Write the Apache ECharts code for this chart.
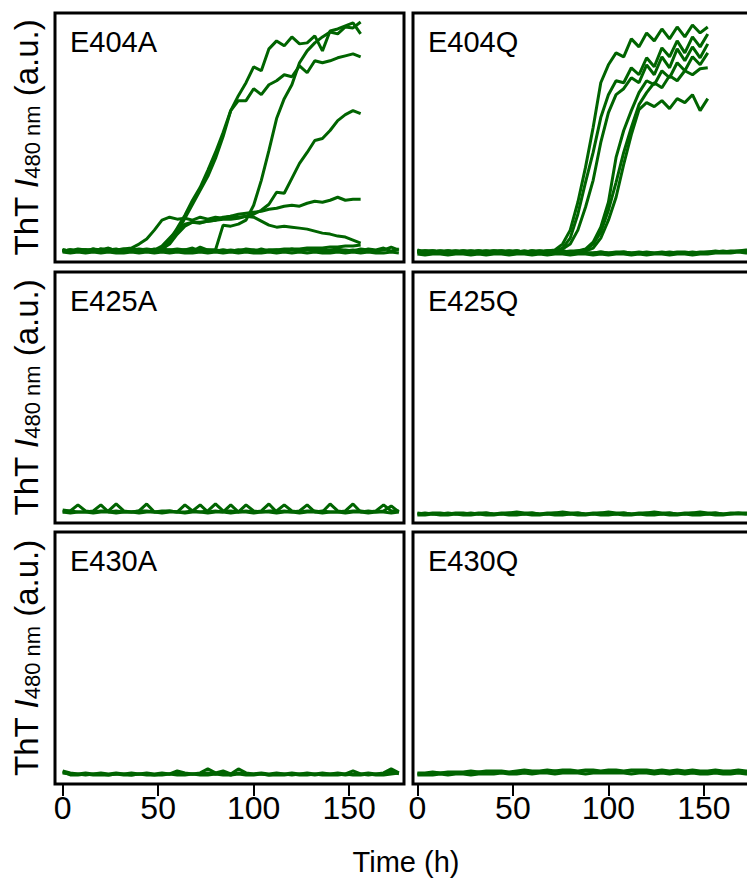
<!DOCTYPE html>
<html>
<head>
<meta charset="utf-8">
<script src="https://cdn.jsdelivr.net/npm/echarts@6/dist/echarts.min.js"></script>
<style>
  html, body { margin: 0; padding: 0; background: #fff; }
  #main { width: 747px; height: 889px; }
</style>
</head>
<body>
<div id="main"></div>
<script>
// time points (h)
const hours = [0,4,8,12,16,20,24,28,32,36,40,44,48,52,56,60,64,68,72,76,80,84,88,92,96,100,104,108,112,116,120,124,128,132,136,140,144,148,152,156,160,164,168,172,176];
const panelNames = ['E404A', 'E404Q', 'E425A', 'E425Q', 'E430A', 'E430Q'];
const xTicks = [0, 50, 100, 150];

// E404A
const e404A_1 = [2,1,2,1,3,2,1,2,3,2,2,3,2,4,12,24,37,52,65,82,100,120,142,157,170,186,182,204,212,207,216,209,210,217,202,222,224,227,230,219];
const e404A_2 = [1,2,1,2,1,3,2,2,1,2,3,2,2,2,10,20,34,48,62,76,94,116,142,152,152,164,158,168,172,178,176,187,180,192,190,192,195,197,199,196];
const e404A_3 = [1,2,1,2,2,1,3,2,1,2,2,1,2,3,2,1,2,2,3,2,2,27,26,28,32,47,72,102,134,154,168,190,202,210,216,221,219,226,225,231];
const e404A_4 = [1,1,2,1,2,1,2,2,1,2,1,2,1,3,8,18,26,30,30,31,32,33,33,34,36,38,42,48,60,59,74,89,100,112,114,122,132,138,142,139];
const e404A_5 = [2,1,2,2,1,3,2,2,3,4,8,13,22,32,35,33,34,32,35,33,35,34,36,35,36,35,31,27,25,26,25,24,23,21,19,18,16,15,12,9];
const e404A_6 = [2,1,2,2,1,2,3,2,1,2,2,1,2,6,14,22,28,30,29,31,32,35,36,38,39,40,41,43,44,46,47,46,49,51,50,52,55,52,53,53];
const e404A_7 = [1,2,1,1,2,1,2,1,1,2,1,2,1,2,1,1,2,1,2,1,1,2,1,2,1,2,1,2,2,3,3,3,4,4,4,5,5,6,6,7];
const e404A_b1 = [2,1,3,2,1,2,4,1,2,3,1,2,2,1,2,3,2,4,1,2,2,1,2,1,3,2,1,2,2,1,3,1,2,2,1,2,3,1,2,1,3,2,4,1,3];
const e404A_b2 = [1,2,1,1,3,1,2,3,1,2,2,1,3,1,2,1,2,1,5,2,1,2,1,2,2,1,3,1,2,1,2,1,3,1,2,1,2,2,1,3,2,1,2,5,2];
const e404A_b3 = [0,-1,0,-1,0,-1,0,-1,-1,0,-1,0,-1,0,-1,0,-1,-1,0,-1,0,-1,0,-1,0,-1,-1,0,-1,0,-1,0,-1,0,-1,-1,0,-1,0,-1,0,-1,-1,0,-1];

// E404Q
const e404Q_1 = [1,0,1,1,0,1,0,1,1,0,1,0,1,1,0,1,0,1,2,8,22,50,85,125,170,188,200,196,214,206,220,212,224,214,226,216,228,220,226];
const e404Q_2 = [0,1,1,0,1,0,1,0,1,1,0,1,0,1,0,1,1,0,1,4,14,38,70,100,135,158,172,170,185,178,195,186,205,196,212,200,216,206,219];
const e404Q_3 = [1,1,0,1,0,1,1,0,1,0,1,1,0,1,0,1,0,1,1,3,8,22,45,72,110,140,158,164,175,170,188,178,196,185,204,192,206,195,209];
const e404Q_4 = [0,1,0,1,1,0,1,0,1,0,1,1,0,1,0,1,0,1,1,0,1,1,3,10,25,50,95,122,142,160,172,168,182,175,190,182,196,188,200];
const e404Q_5 = [1,0,1,0,1,1,0,1,0,1,1,0,1,0,1,0,1,1,0,1,0,1,2,8,20,42,70,100,125,148,160,170,165,177,172,182,178,184,185];
const e404Q_6 = [0,1,1,0,1,0,1,1,0,1,0,1,1,0,1,0,1,0,1,1,0,1,1,4,14,32,55,88,118,143,150,146,152,144,154,150,158,142,154];
const e404Q_b1 = [0,-1,0,0,-1,0,-1,-1,0,-1,0,0,-1,0,-1,-1,0,-1,0,0,-1,0,-1,-1,0,-1,0,0,-1,0,-1,-1,0,-1,0,0,-1,0,0,1,0,1,1,2,2];
const e404Q_b2 = [-2,-3,-2,-2,-3,-2,-2,-3,-2,-3,-2,-2,-3,-2,-2,-3,-2,-3,-2,-2,-3,-2,-2,-3,-2,-3,-2,-2,-3,-2,-3,-2,-2,-3,-2,-2,-3,-2,-2,-1,-1,-1,0,-1,0];
const e404Q_b3 = [2,0,-1,0,-1,-1,0,-1,-1,0,-1,-1,0,-1,-1,0,-1,-1,0,-1,-1,0,-1,-1,0,-1,-1,0,-1,-1,0,-1,-1,0,-1,-1,0,-1,0,0,1,0,1,1,1];

// E425A
const e425A_1 = [1,0,1,1,0,1,1,0,1,1,0,1,1,0,1,1,0,1,1,0,1,1,0,1,1,0,1,1,0,1,1,0,1,1,0,1,1,0,1,1,0,1,1,0,1];
const e425A_2 = [3,2,8,2,1,2,2,9,2,1,2,2,1,2,2,1,8,2,1,2,9,2,2,1,8,2,1,2,2,8,2,1,2,2,1,9,2,1,2,2,1,2,8,2,2];
const e425A_3 = [1,2,1,1,2,8,1,2,1,1,2,9,1,1,2,1,1,2,8,1,2,1,8,1,2,1,2,9,1,2,1,2,8,1,2,1,1,2,9,1,2,1,2,7,1];

// E425Q
const e425Q_1 = [0,-1,0,0,-1,0,0,-1,0,0,-1,0,0,1,0,0,-1,0,0,1,0,0,-1,0,0,1,0,0,-1,0,0,1,0,0,-1,0,0,1,0,0,-1,0,0,0,0];
const e425Q_2 = [-2,-2,-1,-2,-2,-1,-2,-2,-1,-2,-2,-1,-2,-2,-1,-2,-2,-1,-2,-2,-1,-2,-2,-1,-2,-2,-1,-2,-2,-1,-2,-2,-1,-2,-2,-1,-2,-2,-1,-2,-2,-1,-1,-1,-1];
const e425Q_3 = [-1,0,-1,-1,0,-1,-1,0,-1,0,-1,-1,0,-1,-1,0,-1,-1,0,-1,-1,0,-1,-1,0,-1,-1,0,-1,-1,0,-1,-1,0,-1,-1,0,-1,-1,0,-1,-1,0,-1,0];

// E430A
const e430A_1 = [3,1,0,1,0,1,0,1,0,1,0,1,0,1,0,3,1,0,1,5,1,3,0,5,1,0,1,0,1,0,1,0,1,0,1,0,1,0,3,0,1,0,1,5,1];
const e430A_2 = [2,-1,-1,0,-1,-1,-1,0,-1,-1,0,-1,-1,-1,0,-1,-1,0,-1,-1,0,-1,-1,0,-1,-1,0,-1,-1,-1,0,-1,-1,0,-1,-1,-1,0,-1,-1,0,-1,-1,0,1];
const e430A_3 = [1,0,0,-1,0,0,-1,0,0,-1,0,0,-1,0,0,1,0,0,0,1,0,1,-1,1,0,0,0,-1,0,0,-1,0,0,-1,0,0,0,-1,0,0,-1,0,0,2,0];

// E430Q
const e430Q_1 = [0,0,1,1,1,1,1,1,2,1,2,2,1,2,2,2,2,2,3,2,3,2,3,3,2,3,3,2,3,3,3,2,3,2,3,2,3,2,2,3,2,2,3,2,2];
const e430Q_2 = [-1,-1,-1,0,-1,0,0,-1,0,0,0,1,0,0,1,0,1,1,0,1,1,1,0,1,1,1,1,1,0,1,1,0,1,0,1,0,1,0,0,1,0,0,1,0,0];
const e430Q_3 = [1,1,2,1,2,2,2,3,2,3,3,3,2,3,4,3,3,4,3,4,4,3,4,4,3,4,4,3,4,4,4,3,4,3,4,3,4,3,3,4,3,3,4,3,3];

const panelCurves = [
    [e404A_b1, e404A_b2, e404A_b3, e404A_7, e404A_5, e404A_6, e404A_4, e404A_3, e404A_2, e404A_1],
    [e404Q_b1, e404Q_b2, e404Q_b3, e404Q_6, e404Q_5, e404Q_4, e404Q_3, e404Q_2, e404Q_1],
    [e425A_1, e425A_2, e425A_3],
    [e425Q_1, e425Q_2, e425Q_3],
    [e430A_1, e430A_2, e430A_3],
    [e430Q_1, e430Q_2, e430Q_3]
]

const chart = echarts.init(document.getElementById('main'), null, { renderer: 'svg' })

const font = 'Liberation Sans, Arial, Helvetica, sans-serif'
const green = '#006400'

// panel boxes (right column runs past the page edge, as in the figure)
const boxes = [
    { left: 55, top: 13, width: 349, height: 249 },
    { left: 413, top: 13, width: 349, height: 249 },
    { left: 55, top: 272, width: 349, height: 251 },
    { left: 413, top: 272, width: 349, height: 251 },
    { left: 55, top: 532, width: 349, height: 252 },
    { left: 413, top: 532, width: 349, height: 252 }
]

const xRange = [[-4, 178.7], [-2.3, 180.4]]

const series = []
panelCurves.forEach((curves, p) => {
    curves.forEach(vals => {
        series.push({
            type: 'line',
            xAxisIndex: p,
            yAxisIndex: p,
            data: vals.map((v, i) => [hours[i], v]),
            showSymbol: false,
            symbol: 'none',
            silent: true,
            lineStyle: { color: green, width: 3 },
            clip: true
        })
    })
})

const option = {
    animation: false,
    backgroundColor: '#fff',
    grid: boxes.map(b => ({
        left: b.left,
        top: b.top,
        width: b.width,
        height: b.height,
        outerBoundsMode: 'none',
        containLabel: false,
        show: true,
        borderColor: '#000',
        borderWidth: 3,
        backgroundColor: 'transparent'
    })),
    xAxis: boxes.map((b, i) => {
        const bottom = i >= 4
        return {
            type: 'value',
            gridIndex: i,
            min: xRange[i % 2][0],
            max: xRange[i % 2][1],
            axisLine: { show: false, onZero: false },
            splitLine: { show: false },
            axisTick: {
                show: bottom,
                customValues: xTicks,
                length: 12,
                lineStyle: { color: '#000', width: 2 }
            },
            axisLabel: {
                show: bottom,
                customValues: xTicks,
                fontSize: 32,
                color: '#000',
                fontFamily: font,
                margin: 8
            }
        }
    }),
    yAxis: boxes.map((b, i) => ({
        type: 'value',
        gridIndex: i,
        min: -10,
        max: 240,
        axisLine: { show: false, onZero: false },
        axisTick: { show: false },
        axisLabel: { show: false },
        splitLine: { show: false },
        name: i % 2 === 0 ? '{n|ThT }{i|I}{s|480 nm}{n| (a.u.)}' : '',
        nameLocation: 'middle',
        nameRotate: 90,
        nameGap: 12,
        nameTextStyle: {
            color: '#000',
            fontFamily: font,
            rich: {
                n: { fontSize: 33, fontFamily: font, color: '#000', lineHeight: 34 },
                i: { fontSize: 33, fontFamily: font, fontStyle: 'italic', color: '#000', lineHeight: 34 },
                s: { fontSize: 22, fontFamily: font, color: '#000', lineHeight: 16, verticalAlign: 'bottom' }
            }
        }
    })),
    series: series,
    graphic: boxes.map((b, i) => ({
        type: 'text',
        x: b.left + 15,
        y: b.top + 29,
        style: {
            text: panelNames[i],
            fontSize: 29,
            fontFamily: font,
            fill: '#000',
            verticalAlign: 'middle',
            align: 'left'
        }
    })).concat([{
        type: 'text',
        x: 406,
        y: 862,
        style: {
            text: 'Time (h)',
            fontSize: 29,
            fontFamily: font,
            fill: '#000',
            verticalAlign: 'middle',
            align: 'center'
        }
    }])
}

chart.setOption(option)
</script>
</body>
</html>
